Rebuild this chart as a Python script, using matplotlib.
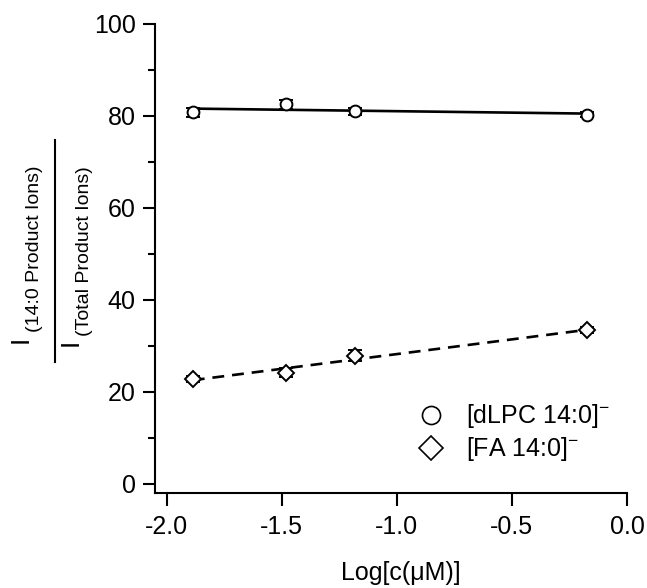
import numpy as np
import matplotlib
matplotlib.use("Agg")
import matplotlib.pyplot as plt
from matplotlib.lines import Line2D

plt.rcParams['font.family'] = ['Liberation Sans', 'DejaVu Sans']
plt.rcParams['mathtext.fontset'] = 'custom'
plt.rcParams['mathtext.rm'] = 'Liberation Sans'
plt.rcParams['mathtext.it'] = 'Liberation Sans'
plt.rcParams['mathtext.sf'] = 'Liberation Sans'

log_c = [-1.886, -1.48, -1.18, -0.175]
dlpc = [80.8, 82.5, 81.0, 80.3]
dlpc_err = [1.0, 1.0, 0.8, 0.6]
fa = [22.8, 24.2, 27.8, 33.4]
fa_err = [0.6, 1.0, 1.2, 0.6]
xticks = [-2.0, -1.5, -1.0, -0.5, 0.0]
yticks = [0, 20, 40, 60, 80, 100]

W, H = 647, 588
fig = plt.figure(figsize=(W / 100, H / 100), dpi=100)
ax = fig.add_axes([0.2396, 0.1616, 0.7295, 0.7976])

x = np.array(log_c)
for y, e, mk, ls in [(dlpc, dlpc_err, 'o', '-'), (fa, fa_err, 'D', (0, (4.5, 3)))]:
    y = np.array(y)
    ax.errorbar(x, y, yerr=e, fmt=mk, mfc='white', mec='black', ms=8.5 if mk == 'o' else 8,
                mew=1.4, ecolor='black', elinewidth=1.5, capsize=5, capthick=1.5, zorder=3)
    p = np.polyfit(x, y, 1)
    ax.plot(x[[0, -1]], np.polyval(p, x[[0, -1]]), color='black', lw=1.9, ls=ls, zorder=2)

ax.set_xlim(-2.05, 0.0)
ax.set_ylim(-2, 100)
ax.set_xticks(xticks)
ax.set_xticklabels([f"{v:.1f}" for v in xticks])
ax.set_yticks(yticks)
ax.set_yticks(np.arange(10, 100, 20), minor=True)
ax.spines['top'].set_visible(False)
ax.spines['right'].set_visible(False)
for s in ['left', 'bottom']:
    ax.spines[s].set_linewidth(1.5)
ax.tick_params(which='major', direction='out', length=9, width=1.5, labelsize=18, pad=5)
ax.tick_params(axis='x', which='major', pad=7)
ax.tick_params(which='minor', direction='out', length=5, width=1.5)

ax.set_xlabel('Log[c(\u03bcM)]', fontsize=18)
ax.xaxis.set_label_coords((400 - 156) / 469, -(573 - 493) / 469)
ax.xaxis.label.set_va('center')

# y label as a rotated fraction
def vtext(xp, yp, s, size):
    fig.text(xp / W, 1 - yp / H, s, rotation=90, rotation_mode='anchor',
             ha='left', va='baseline', fontsize=size)

vtext(28, 343, 'I', 19)
vtext(39, 332, '(14:0 Product Ions)', 14)
vtext(78, 346, 'I', 19)
vtext(89, 336, '(Total Product Ions)', 14)
fig.add_artist(Line2D([55 / W, 55 / W], [1 - 140 / H, 1 - 362 / H],
                      color='black', lw=1.5, transform=fig.transFigure))

handles = [Line2D([], [], marker='o', ls='none', mfc='white', mec='black', ms=13, mew=1.2),
           Line2D([], [], marker='D', ls='none', mfc='white', mec='black', ms=12, mew=1.2)]
ax.legend(handles, ['[dLPC 14:0]$^{-}$', '[FA 14:0]$^{-}$'], loc='lower right',
          bbox_to_anchor=(1.01, 0.015), frameon=False, fontsize=18, handletextpad=0.8,
          labelspacing=0.2, handlelength=1.2)

fig.savefig('out.png', dpi=100)
